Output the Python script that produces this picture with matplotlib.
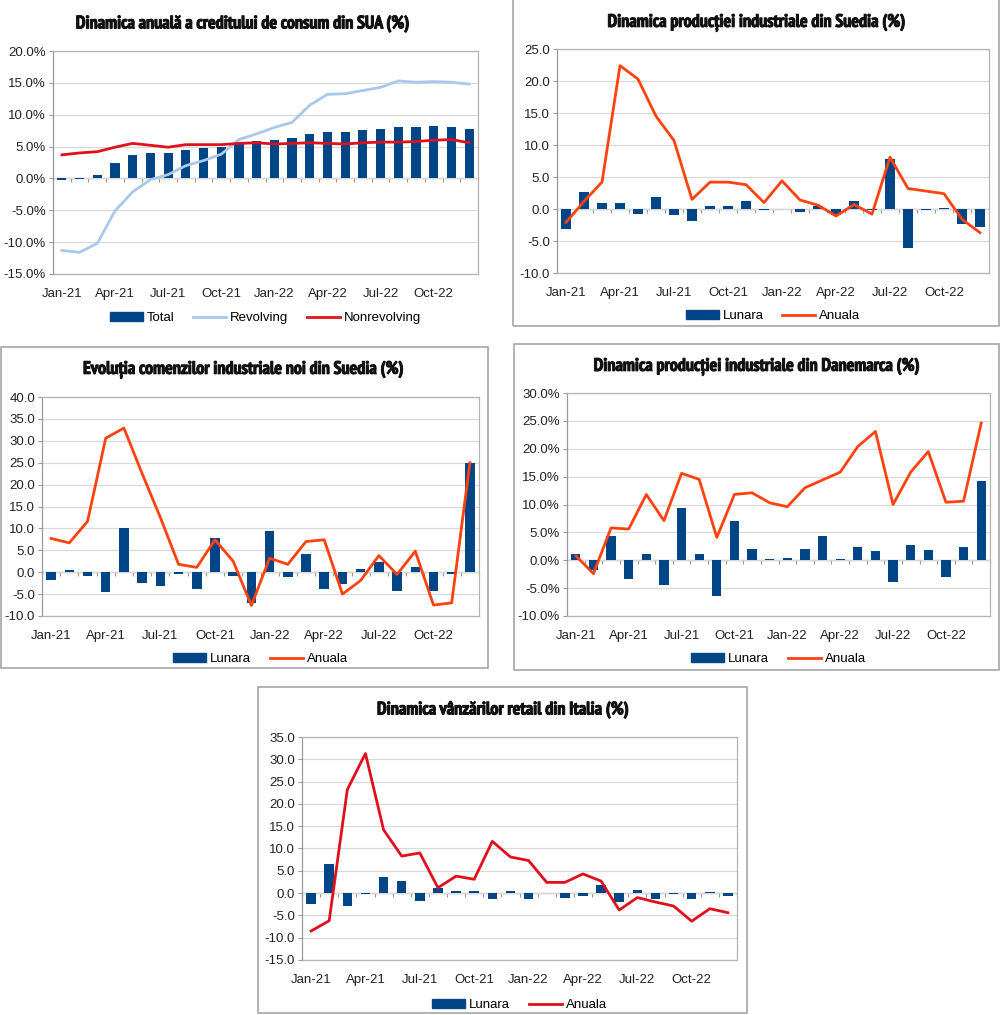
import numpy as np
import matplotlib
matplotlib.use("Agg")
import matplotlib.pyplot as plt
from matplotlib import font_manager as fm
from matplotlib import patheffects as pe
from matplotlib.patches import Rectangle, Patch
from matplotlib.lines import Line2D
from matplotlib.ticker import FuncFormatter, MultipleLocator

plt.rcParams['font.family'] = ['Liberation Sans', 'DejaVu Sans']

months = ["Jan-21", "Feb-21", "Mar-21", "Apr-21", "May-21", "Jun-21",
          "Jul-21", "Aug-21", "Sep-21", "Oct-21", "Nov-21", "Dec-21",
          "Jan-22", "Feb-22", "Mar-22", "Apr-22", "May-22", "Jun-22",
          "Jul-22", "Aug-22", "Sep-22", "Oct-22", "Nov-22", "Dec-22"]

# SUA - credit de consum (%)
sua_total = [-0.2, -0.1, 0.5, 2.4, 3.6, 4.0, 4.0, 4.5, 4.8, 5.0, 5.6, 5.9,
             6.0, 6.3, 7.0, 7.3, 7.3, 7.6, 7.7, 8.0, 8.0, 8.2, 8.1, 7.8]
sua_revolving = [-11.3, -11.6, -10.2, -5.1, -2.1, -0.2, 0.6, 2.0, 2.8, 3.8, 6.1, 7.0,
                 8.0, 8.8, 11.5, 13.2, 13.3, 13.8, 14.3, 15.3, 15.1, 15.2, 15.1, 14.8]
sua_nonrevolving = [3.7, 4.0, 4.2, 4.9, 5.5, 5.2, 4.9, 5.3, 5.3, 5.3, 5.5, 5.6,
                    5.4, 5.5, 5.6, 5.5, 5.4, 5.6, 5.7, 5.7, 5.8, 6.0, 6.1, 5.6]

# Suedia - productie industriala
se_prod_lunara = [-3.2, 2.6, 1.0, 1.0, -0.8, 1.8, -1.0, -1.9, 0.5, 0.5, 1.3, -0.2,
                  0.0, -0.5, 0.4, -0.9, 1.3, -0.2, 7.8, -6.1, -0.1, 0.2, -2.4, -2.8]
se_prod_anuala = [-2.1, 1.2, 4.2, 22.4, 20.3, 14.5, 10.7, 1.5, 4.2, 4.2, 3.8, 1.0,
                  4.4, 1.4, 0.6, -1.1, 0.7, -0.8, 8.1, 3.2, 2.8, 2.4, -1.6, -3.7]

# Suedia - comenzi industriale noi
se_cmd_lunara = [-1.8, 0.5, -0.9, -4.6, 10.0, -2.4, -3.1, -0.4, -3.9, 7.9, -0.9, -7.0,
                 9.3, -1.1, 4.2, -3.8, -2.6, 0.7, 2.4, -4.4, 1.1, -4.2, -0.5, 25.0]
se_cmd_anuala = [7.7, 6.7, 11.6, 30.6, 32.9, 22.5, 12.5, 1.8, 1.1, 7.4, 2.5, -7.6,
                 3.2, 1.8, 7.0, 7.4, -5.0, -1.9, 3.8, -0.5, 4.8, -7.5, -7.0, 25.0]

# Danemarca - productie industriala (%)
dk_lunara = [1.2, -1.7, 4.3, -3.3, 1.1, -4.5, 9.4, 1.1, -6.4, 7.0, 2.0, 0.3,
             0.4, 2.0, 4.3, 0.2, 2.4, 1.7, -3.9, 2.7, 1.8, -3.0, 2.3, 14.3]
dk_anuala = [0.8, -2.4, 5.8, 5.6, 11.8, 7.1, 15.6, 14.5, 4.1, 11.8, 12.1, 10.3,
             9.6, 13.0, 14.4, 15.8, 20.4, 23.1, 10.0, 15.8, 19.5, 10.4, 10.6, 24.6]

# Italia - vanzari retail
it_lunara = [-2.4, 6.6, -3.0, -0.1, 3.6, 2.7, -1.7, 1.1, 0.5, 0.5, -1.3, 0.4,
             -1.4, 0.1, -1.0, -0.6, 1.8, -2.1, 0.7, -1.3, -0.1, -1.3, 0.3, -0.6]
it_anuala = [-8.5, -6.2, 23.2, 31.3, 14.2, 8.3, 9.0, 1.2, 3.8, 3.1, 11.6, 8.1,
             7.3, 2.4, 2.4, 4.3, 2.7, -3.8, -1.0, -2.0, -2.9, -6.3, -3.5, -4.4]

BLUE = "#004586"
ORANGE = "#ff420e"
RED = "#e0101c"
LIGHT = "#a9c9ec"
GRID = "#d9d9d9"
FRAME = "#b3b3b3"

W, H = 1000, 1015
fig = plt.figure(figsize=(W / 100, H / 100), dpi=100)


# the titles use a heavy condensed face; take the narrowest bold font installed
def title_font_file():
    cands = []
    for f in fm.fontManager.ttflist:
        narrow = ("Narrow" in f.name or "Condensed" in f.name
                  or "condensed" in str(f.stretch))
        bold = f.weight in (600, 700, 800, 900, "bold", "heavy", "black")
        if narrow and bold and "Italic" not in f.fname and "Oblique" not in f.fname:
            cands.append(f)
    cands.sort(key=lambda f: 0 if "Narrow" in f.name else 1)
    return cands[0].fname if cands else None


TFILE = title_font_file()


def px_box(x0, y0, x1, y1):
    return [x0 / W, 1 - y1 / H, (x1 - x0) / W, (y1 - y0) / H]


def border(x0, y0, x1, y1):
    fig.patches.append(Rectangle((x0 / W, 1 - y1 / H), (x1 - x0) / W, (y1 - y0) / H,
                                 transform=fig.transFigure, fill=False,
                                 edgecolor="#a6a6a6", linewidth=1.2))


def add_title(text, cx, cy, width_px):
    if TFILE:
        fp = fm.FontProperties(fname=TFILE, size=13)
    else:
        fp = fm.FontProperties(family="Liberation Sans", weight="bold", size=13)
    t = fig.text(cx / W, 1 - cy / H, text, ha="center", va="center", fontproperties=fp,
                 color="#111111",
                 path_effects=[pe.withStroke(linewidth=0.7, foreground="#111111")])
    r = fig.canvas.get_renderer()
    w = t.get_window_extent(renderer=r).width
    # shrink to the width of the title in the source picture
    if w > width_px:
        fp.set_size(13 * width_px / w)
        t.set_fontproperties(fp)


def panel(box, title, title_pos, ylim, pct, bars, lines, names, legend_y):
    ax = fig.add_axes(px_box(*box))
    x = np.arange(len(months))
    ax.bar(x, bars[1], width=0.52, color=BLUE, zorder=3)
    for vals, col in lines:
        ax.plot(x, vals, color=col, linewidth=2.0, zorder=4)
    ax.set_xlim(-0.5, len(months) - 0.5)
    ax.set_ylim(*ylim)
    ax.yaxis.set_major_locator(MultipleLocator(5))
    if pct:
        ax.yaxis.set_major_formatter(FuncFormatter(lambda v, p: f"{v:.1f}%"))
    else:
        ax.yaxis.set_major_formatter(FuncFormatter(lambda v, p: f"{v:.1f}"))
    ax.set_xticks(x[::3])
    ax.set_xticklabels(months[::3])
    ax.tick_params(axis="x", length=0, pad=10, labelsize=9.5, labelcolor="#222222")
    ax.tick_params(axis="y", length=3, color="#999999", pad=2, labelsize=9.5,
                   labelcolor="#222222")
    ax.grid(axis="y", color=GRID, linewidth=0.9, zorder=0)
    for s in ax.spines.values():
        s.set_color(FRAME)
        s.set_linewidth(0.9)
    ax.spines["left"].set_color("#999999")
    # zero axis with category ticks
    zero = ax.secondary_xaxis(0.0, transform=ax.transData)
    zero.set_xticks(np.arange(-0.5, len(months), 1.0))
    zero.set_xticklabels([])
    zero.tick_params(length=3, color="#999999", direction="out")
    zero.spines["bottom"].set_color("#999999")
    zero.spines["bottom"].set_linewidth(0.9)

    add_title(title, *title_pos)

    handles = [Patch(color=BLUE, label=bars[0])]
    for (vals, col), nm in zip(lines, names):
        handles.append(Line2D([], [], color=col, linewidth=2.0, label=nm))
    cx = (box[0] + box[2]) / 2
    fig.legend(handles=handles, loc="center", bbox_to_anchor=(cx / W, 1 - legend_y / H),
               ncol=len(handles), frameon=False, fontsize=9.5, handlelength=2.5,
               handleheight=0.6, handletextpad=0.3, columnspacing=1.4,
               borderpad=0)
    return ax


border(513, -3, 999, 326)
border(1, 347, 488, 668)
border(514, 344, 999, 670)
border(258, 687, 747, 1013)

panel((53, 51, 478, 274), "Dinamica anuală a creditului de consum din SUA (%)",
      (243, 24, 352), (-15, 20), True, ("Total", sua_total),
      [(sua_revolving, LIGHT), (sua_nonrevolving, RED)], ["Revolving", "Nonrevolving"], 318)
panel((557, 49, 989, 273), "Dinamica producției industriale din Suedia (%)",
      (757, 23, 312), (-10, 25), False, ("Lunara", se_prod_lunara),
      [(se_prod_anuala, ORANGE)], ["Anuala"], 316)
panel((42, 397, 479, 616), "Evoluția comenzilor industriale noi din Suedia (%)",
      (244, 370, 335), (-10, 40), False, ("Lunara", se_cmd_lunara),
      [(se_cmd_anuala, ORANGE)], ["Anuala"], 659)
panel((567, 393, 990, 616), "Dinamica producției industriale din Danemarca (%)",
      (757, 367, 342), (-10, 30), True, ("Lunara", dk_lunara),
      [(dk_anuala, ORANGE)], ["Anuala"], 659)
panel((302, 737, 737, 960), "Dinamica vânzărilor retail din Italia (%)",
      (503, 710, 265), (-15, 35), False, ("Lunara", it_lunara),
      [(it_anuala, RED)], ["Anuala"], 1005)

fig.savefig("out.png", dpi=100, facecolor="white")
